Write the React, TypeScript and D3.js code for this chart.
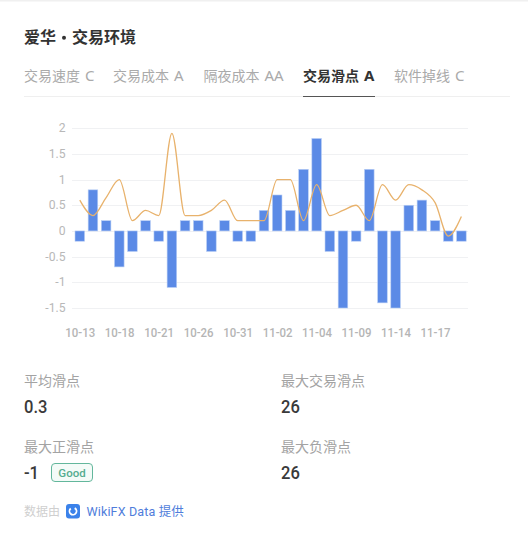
import React from "react";
import * as d3 from "d3";

const tickIdx = [0,3,6,9,12,15,18,21,24,27];
const tickLabels = ["10-13","10-18","10-21","10-26","10-31","11-02","11-04","11-09","11-14","11-17"];
const barValues = [-0.2,0.8,0.2,-0.7,-0.4,0.2,-0.2,-1.1,0.2,0.2,-0.4,0.2,-0.2,-0.2,0.4,0.7,0.4,1.2,1.8,-0.4,-1.5,-0.2,1.2,-1.4,-1.5,0.5,0.6,0.2,-0.2,-0.2];
const lineValues = [0.6,0.3,0.65,1,0.2,0.4,0.3,1.9,0.3,0.3,0.4,0.6,0.2,0.2,0.2,1,1,0.2,0.9,0.3,0.4,0.5,0.2,0.9,0.6,0.9,0.8,0.55,-0.1,0.28];
const yTicks = [2,1.5,1,0.5,0,-0.5,-1,-1.5];
const tabs = [["交易速度"," C",24],["交易成本"," A",113],["隔夜成本"," AA",203.5],["交易滑点"," A",303],["软件掉线"," C",394]] as const;
const stats = [["平均滑点","0.3",24,381,407],["最大交易滑点","26",281,381,407],["最大正滑点","-1",24,447,473],["最大负滑点","26",281,447,473]] as const;

const CJK = "'Noto Sans CJK SC','Noto Sans',sans-serif";
const NUM = "Roboto,'Noto Sans',sans-serif";

export default function App() {
  const x = d3.scaleLinear().domain([0, barValues.length - 1]).range([79.8, 461.4]);
  const y = d3.scaleLinear().domain([-1.5, 2]).range([308, 128.2]);
  const bw = 9.6;
  const line = d3.line<number>().x((_, i) => x(i)).y(d => y(d)).curve(d3.curveMonotoneX);
  const arc = d3.arc()({ innerRadius: 2.6, outerRadius: 4.4, startAngle: 0.5, endAngle: 5.6 }) ?? "";
  return (
    <svg width={528} height={544} style={{ position: "absolute", left: 0, top: 0, background: "#fff" }}>
      <rect x={0} y={0} width={528} height={1.5} fill="#f0f0f0" />
      <g fontFamily={CJK} fontSize={16} fontWeight={700} fill="#333">
        <text x={24} y={43}>爱华</text>
        <circle cx={64} cy={37.8} r={2} />
        <text x={72} y={43}>交易环境</text>
      </g>
      {tabs.map(([t, l, tx], i) => (
        <text key={t} x={tx} y={81} fontFamily={CJK} fontSize={14} fontWeight={i === 3 ? 700 : 400} fill={i === 3 ? "#333" : "#aaa"}>{t}<tspan fontFamily="'Noto Sans',sans-serif" fontSize={15} dx={1}>{l}</tspan></text>
      ))}
      <line x1={24} x2={510} y1={96.5} y2={96.5} stroke="#efefef" />
      <line x1={303} x2={375} y1={96.5} y2={96.5} stroke="#555" />
      {yTicks.map(t => (
        <g key={t}>
          <line x1={72} x2={468} y1={Math.round(y(t)) + 0.5} y2={Math.round(y(t)) + 0.5} stroke="#f0f1f3" />
          <text transform={`translate(65.5,${y(t) + 4}) scale(0.9,1)`} textAnchor="end" fontFamily={NUM} fontSize={13.5} fill="#b8b8b8">{t}</text>
        </g>
      ))}
      {barValues.map((v, i) => (
        <rect key={i} x={x(i) - bw / 2} y={Math.min(y(v), y(0))} width={bw} height={Math.abs(y(v) - y(0))} fill="#5b8ae6" stroke="#b9cff5" strokeWidth={0.6} />
      ))}
      <path d={line(lineValues) ?? ""} fill="none" stroke="#e8b26c" strokeWidth={1.3} />
      {tickIdx.map((k, i) => (
        <text key={tickLabels[i]} transform={`translate(${x(k) + 0.4},337) scale(0.88,1)`} textAnchor="middle" fontFamily={NUM} fontSize={13} fontWeight={500} fill="#b5b5b5">{tickLabels[i]}</text>
      ))}
      {stats.map(([l, v, sx, ly, vy]) => (
        <g key={l}>
          <text x={sx} y={ly + 5} fontFamily={CJK} fontSize={14} fill="#a3a3a3">{l}</text>
          <text transform={`translate(${sx},${vy + 6}) scale(0.92,1)`} fontFamily={NUM} fontSize={18} fontWeight={500} fill="#3a3a3a">{v}</text>
        </g>
      ))}
      <rect x={51.5} y={463.5} width={41} height={18} rx={3.5} fill="#f4fbf8" stroke="#63b79c" />
      <text x={72} y={477} textAnchor="middle" fontFamily={NUM} fontSize={11.5} fontWeight={500} fill="#55ac8f">Good</text>
      <text x={24} y={516} fontFamily={CJK} fontSize={12} fill="#cfcfcf">数据由</text>
      <rect x={66} y={504} width={14} height={14.5} rx={3} fill="#3b82ea" />
      <path d={arc} transform="translate(73,511.2)" fill="#fff" />
      <text x={86.5} y={516} fontFamily={NUM} fontSize={12.5} fill="#4f7ddb" letterSpacing={0.15}>WikiFX Data <tspan fontFamily={CJK}>提供</tspan></text>
    </svg>
  );
}
